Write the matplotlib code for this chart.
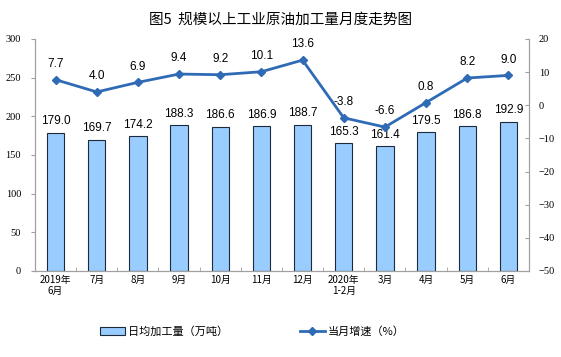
import numpy as np
import matplotlib.pyplot as plt

plt.rcParams['font.family'] = ['Liberation Sans', 'Noto Sans CJK SC', 'DejaVu Sans']

# data
months = ['2019年\n6月', '7月', '8月', '9月', '10月', '11月', '12月',
          '2020年\n1-2月', '3月', '4月', '5月', '6月']
daily_output = [179.0, 169.7, 174.2, 188.3, 186.6, 186.9, 188.7,
                165.3, 161.4, 179.5, 186.8, 192.9]
growth = [7.7, 4.0, 6.9, 9.4, 9.2, 10.1, 13.6, -3.8, -6.6, 0.8, 8.2, 9.0]

bar_color = '#99CCFF'
line_color = '#2F6BB5'
axis_color = '#A0A0A0'
cjk = ['Noto Sans CJK SC', 'DejaVu Sans']

fig = plt.figure(figsize=(5.61, 3.57), dpi=100)
ax = fig.add_axes([0.0624, 0.241, 0.8805, 0.650])
x = np.arange(len(months))

bars = ax.bar(x, daily_output, width=0.42, color=bar_color, edgecolor='#1C2A3A',
              linewidth=0.8, label='日均加工量（万吨）', zorder=2)
for xi, v in zip(x, daily_output):
    ax.annotate(f'{v:.1f}', (xi, v), xytext=(0, 4), textcoords='offset points',
                ha='center', va='bottom', fontsize=8.5)

ax.set_xlim(-0.5, len(months) - 0.5)
ax.set_ylim(0, 300)
ax.set_yticks(range(0, 301, 50))
ax.set_xticks(x)
ax.set_xticklabels(months, fontsize=7, family=cjk, linespacing=1.1)
ax.set_xticks(np.arange(-0.5, len(months), 1), minor=True)
ax.tick_params(axis='x', which='major', length=0, pad=3)
ax.tick_params(axis='x', which='minor', length=3, color=axis_color, direction='in')
ax.tick_params(axis='y', labelsize=7.5, length=3, color=axis_color, pad=7,
               labelfontfamily='Liberation Serif')
ax.spines['top'].set_visible(False)
for s in ['left', 'bottom', 'right']:
    ax.spines[s].set_color(axis_color)
    ax.spines[s].set_linewidth(0.8)

ax2 = ax.twinx()
ln, = ax2.plot(x, growth, color=line_color, linewidth=2, marker='D', markersize=4,
               label='当月增速（%）', zorder=3)
for xi, v in zip(x, growth):
    ax2.annotate(f'{v:.1f}', (xi, v), xytext=(0, 7), textcoords='offset points',
                 ha='center', va='bottom', fontsize=8.5)
ax2.set_ylim(-50, 20)
ax2.set_yticks(range(-50, 21, 10))
ax2.tick_params(axis='y', labelsize=7.5, length=3, color=axis_color, pad=7,
                direction='in', labelfontfamily='Liberation Serif')
ax2.spines['top'].set_visible(False)
for s in ['left', 'bottom', 'right']:
    ax2.spines[s].set_color(axis_color)
    ax2.spines[s].set_linewidth(0.8)

fig.text(0.5, 0.945, '图5  规模以上工业原油加工量月度走势图', ha='center', va='center',
         fontsize=10.5, family=cjk)

fig.legend(handles=[bars, ln], loc='center', bbox_to_anchor=(0.45, 0.072), ncol=2,
           frameon=False, columnspacing=6.5, handlelength=2.2, handletextpad=0.3,
           prop={'family': cjk, 'size': 8})

plt.savefig('out.png')
plt.close()
